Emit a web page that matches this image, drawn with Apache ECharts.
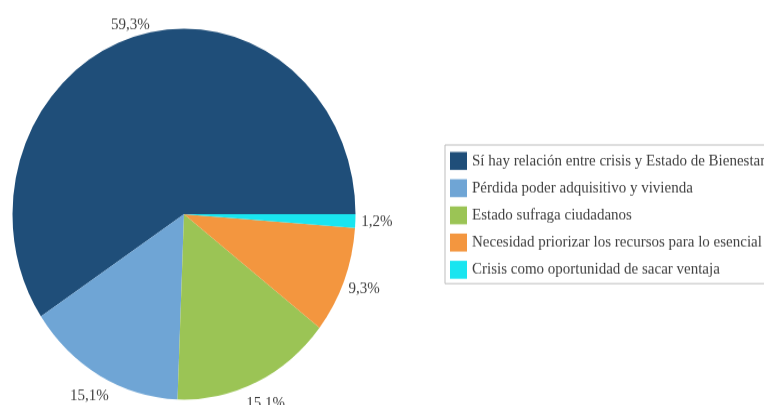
<!DOCTYPE html>
<html>
<head>
<meta charset="utf-8">
<script src="https://cdn.jsdelivr.net/npm/echarts@6/dist/echarts.min.js"></script>
<style>
html,body{margin:0;padding:0;background:#fff;overflow:hidden;}
#wrap{width:764px;height:405px;overflow:hidden;position:relative;}
#chart{width:900px;height:374.4px;transform:scaleY(1.0816);transform-origin:0 0;}
</style>
</head>
<body>
<div id="wrap"><div id="chart"></div></div>
<script>
const categories = [
  'Sí hay relación entre crisis y Estado de Bienestar',
  'Pérdida poder adquisitivo y vivienda',
  'Estado sufraga ciudadanos',
  'Necesidad priorizar los recursos para lo esencial',
  'Crisis como oportunidad de sacar ventaja'
];
const values = [59.3, 15.1, 15.1, 9.3, 1.2];
const colors = ['#1F4E79', '#6FA5D5', '#9BC455', '#F3963F', '#19E5F0'];

const chart = echarts.init(document.getElementById('chart'), null, {renderer: 'canvas'});
const font = '"Liberation Serif", "Times New Roman", serif';
const fmt = p => p.value.toFixed(1).replace('.', ',') + '%';
const pieData = categories.map((c, i) => ({name: c, value: values[i]}));
// label nudges (style only)
const labelOffsets = [[2, 10], [0, 0], [0, 0], [0, 0], [0, 0]];
chart.setOption({
  animation: false,
  color: colors,
  legend: {
    orient: 'vertical',
    left: 445,
    top: 134,
    padding: [6.5, 30, 4.5, 5],
    itemWidth: 17,
    itemHeight: 16.6,
    itemGap: 8.55,
    borderColor: '#bdbdbd',
    borderWidth: 1,
    icon: 'rect',
    textStyle: {fontFamily: font, fontSize: 15, color: '#404040'},
    data: categories
  },
  series: [{
    type: 'pie',
    center: [184, 197.9],
    radius: 171.5,
    startAngle: 0,
    clockwise: false,
    label: {show: false},
    labelLine: {show: false},
    itemStyle: {borderWidth: 0},
    emphasis: {disabled: true},
    data: pieData
  }, {
    type: 'pie',
    center: [184, 197.9],
    radius: [180, 200],
    startAngle: 0,
    clockwise: false,
    silent: true,
    label: {
      show: true,
      position: 'inside',
      fontFamily: font,
      fontSize: 15,
      color: '#404040',
      formatter: fmt
    },
    labelLine: {show: false},
    itemStyle: {color: 'rgba(0,0,0,0)', borderWidth: 0},
    emphasis: {disabled: true},
    data: pieData.map((d, i) => ({name: d.name, value: d.value, label: {offset: labelOffsets[i]}}))
  }]
});
</script>
</body>
</html>
